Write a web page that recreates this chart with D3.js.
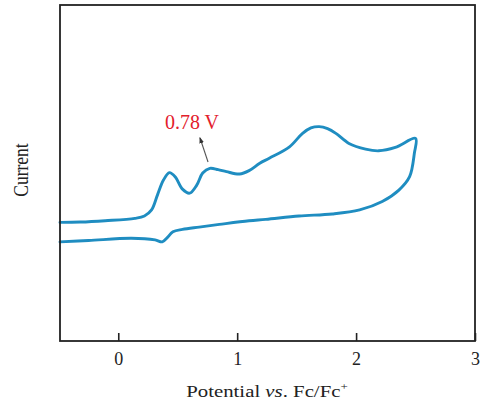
<!DOCTYPE html>
<html>
<head>
<meta charset="utf-8">
<script src="https://cdn.jsdelivr.net/npm/d3@7"></script>
<style>
  html, body { margin: 0; padding: 0; background: #fff; }
  svg { display: block; }
  text { font-family: "Liberation Serif", "DejaVu Serif", serif; }
</style>
</head>
<body>
<svg id="chart" width="483" height="408"></svg>
<script>
// Cyclic voltammogram: potential (V vs. Fc/Fc+) and current (arbitrary units)
const forwardPotential = [-0.49, -0.32, -0.11, 0.14, 0.22, 0.28, 0.33, 0.38, 0.43, 0.48, 0.54, 0.60, 0.66, 0.71, 0.77, 0.84, 0.91, 1.02, 1.10, 1.19, 1.27, 1.44, 1.55, 1.62, 1.69, 1.76, 1.83, 1.94, 2.08, 2.19, 2.33, 2.50];
const forwardCurrent   = [35.3, 35.4, 35.8, 36.5, 37.2, 39.0, 43.5, 47.9, 50.1, 48.8, 45.2, 44.0, 46.4, 50.0, 51.4, 51.0, 50.4, 49.7, 50.7, 52.9, 54.4, 57.8, 61.8, 63.4, 63.8, 63.2, 61.8, 58.8, 57.1, 56.6, 57.6, 60.3];
const reversePotential = [2.49, 2.45, 2.36, 2.22, 2.03, 1.80, 1.52, 1.24, 1.10, 0.85, 0.68, 0.54, 0.46, 0.41, 0.37, 0.31, 0.11, -0.25, -0.49];
const reverseCurrent   = [55.9, 48.9, 44.9, 41.5, 39.0, 37.8, 37.2, 36.2, 35.8, 34.7, 33.9, 33.2, 32.5, 30.7, 29.5, 30.1, 30.6, 29.9, 29.5];
const xTicks = [0, 1, 2, 3];
const peakLabel = "0.78 V";
const peakPotential = 0.78;

const svg = d3.select("#chart");
const plot = { left: 60, right: 475, top: 5, bottom: 341 };

const x = d3.scaleLinear().domain([-0.49, 3]).range([plot.left, plot.right]);
const y = d3.scaleLinear().domain([0, 100]).range([plot.bottom, plot.top]);

// data points for the full scan
const scan = forwardPotential.map((e, i) => [e, forwardCurrent[i]])
  .concat(reversePotential.map((e, i) => [e, reverseCurrent[i]]));

const line = d3.line()
  .x(d => x(d[0]))
  .y(d => y(d[1]))
  .curve(d3.curveCatmullRom.alpha(0.5));

svg.append("path")
  .datum(scan)
  .attr("d", line)
  .attr("fill", "none")
  .attr("stroke", "#1f8dc1")
  .attr("stroke-width", 2.9)
  .attr("stroke-linejoin", "round")
  .attr("stroke-linecap", "round");

// frame
svg.append("rect")
  .attr("x", plot.left).attr("y", plot.top)
  .attr("width", plot.right - plot.left).attr("height", plot.bottom - plot.top)
  .attr("fill", "none")
  .attr("stroke", "#222")
  .attr("stroke-width", 1.8);

// bottom axis with inward ticks
const xAxis = d3.axisBottom(x).tickValues(xTicks).tickSize(-8).tickPadding(11).tickFormat(d3.format("d"));
const gx = svg.append("g").attr("transform", `translate(0,${plot.bottom})`).call(xAxis);
gx.select(".domain").remove();
gx.selectAll(".tick line").attr("stroke", "#222").attr("stroke-width", 1.6);
gx.selectAll(".tick text")
  .attr("font-family", "Liberation Serif, DejaVu Serif, serif")
  .attr("font-size", 18)
  .attr("fill", "#222");

// axis titles (set in a wide serif face)
const xt = svg.append("text")
  .attr("transform", "translate(267,397) scale(1.3,1)")
  .attr("text-anchor", "middle")
  .attr("font-size", 16)
  .attr("fill", "#222");
xt.append("tspan").text("Potential ");
xt.append("tspan").attr("font-style", "italic").text("vs");
xt.append("tspan").text(". Fc/Fc");
xt.append("tspan").attr("font-size", 10).attr("dy", -7).text("+");

svg.append("text")
  .attr("transform", "translate(28,170) rotate(-90) scale(1,1.25)")
  .attr("text-anchor", "middle")
  .attr("font-size", 17.5)
  .attr("fill", "#222")
  .text("Current");

// peak annotation
const tipX = x(peakPotential) - 11, tipY = 138;
const tailX = x(peakPotential) - 3, tailY = 162;
svg.append("defs").append("marker")
  .attr("id", "arrowhead")
  .attr("viewBox", "0 0 10 10")
  .attr("refX", 8).attr("refY", 5)
  .attr("markerWidth", 6).attr("markerHeight", 6)
  .attr("orient", "auto")
  .append("path").attr("d", "M0,1.5 L10,5 L0,8.5 Z").attr("fill", "#333");
svg.append("line")
  .attr("x1", tailX).attr("y1", tailY)
  .attr("x2", tipX).attr("y2", tipY)
  .attr("stroke", "#555").attr("stroke-width", 1.1)
  .attr("marker-end", "url(#arrowhead)");

svg.append("text")
  .attr("x", 192).attr("y", 129)
  .attr("text-anchor", "middle")
  .attr("font-size", 20)
  .attr("fill", "#e3202b")
  .text(peakLabel);
</script>
</body>
</html>
